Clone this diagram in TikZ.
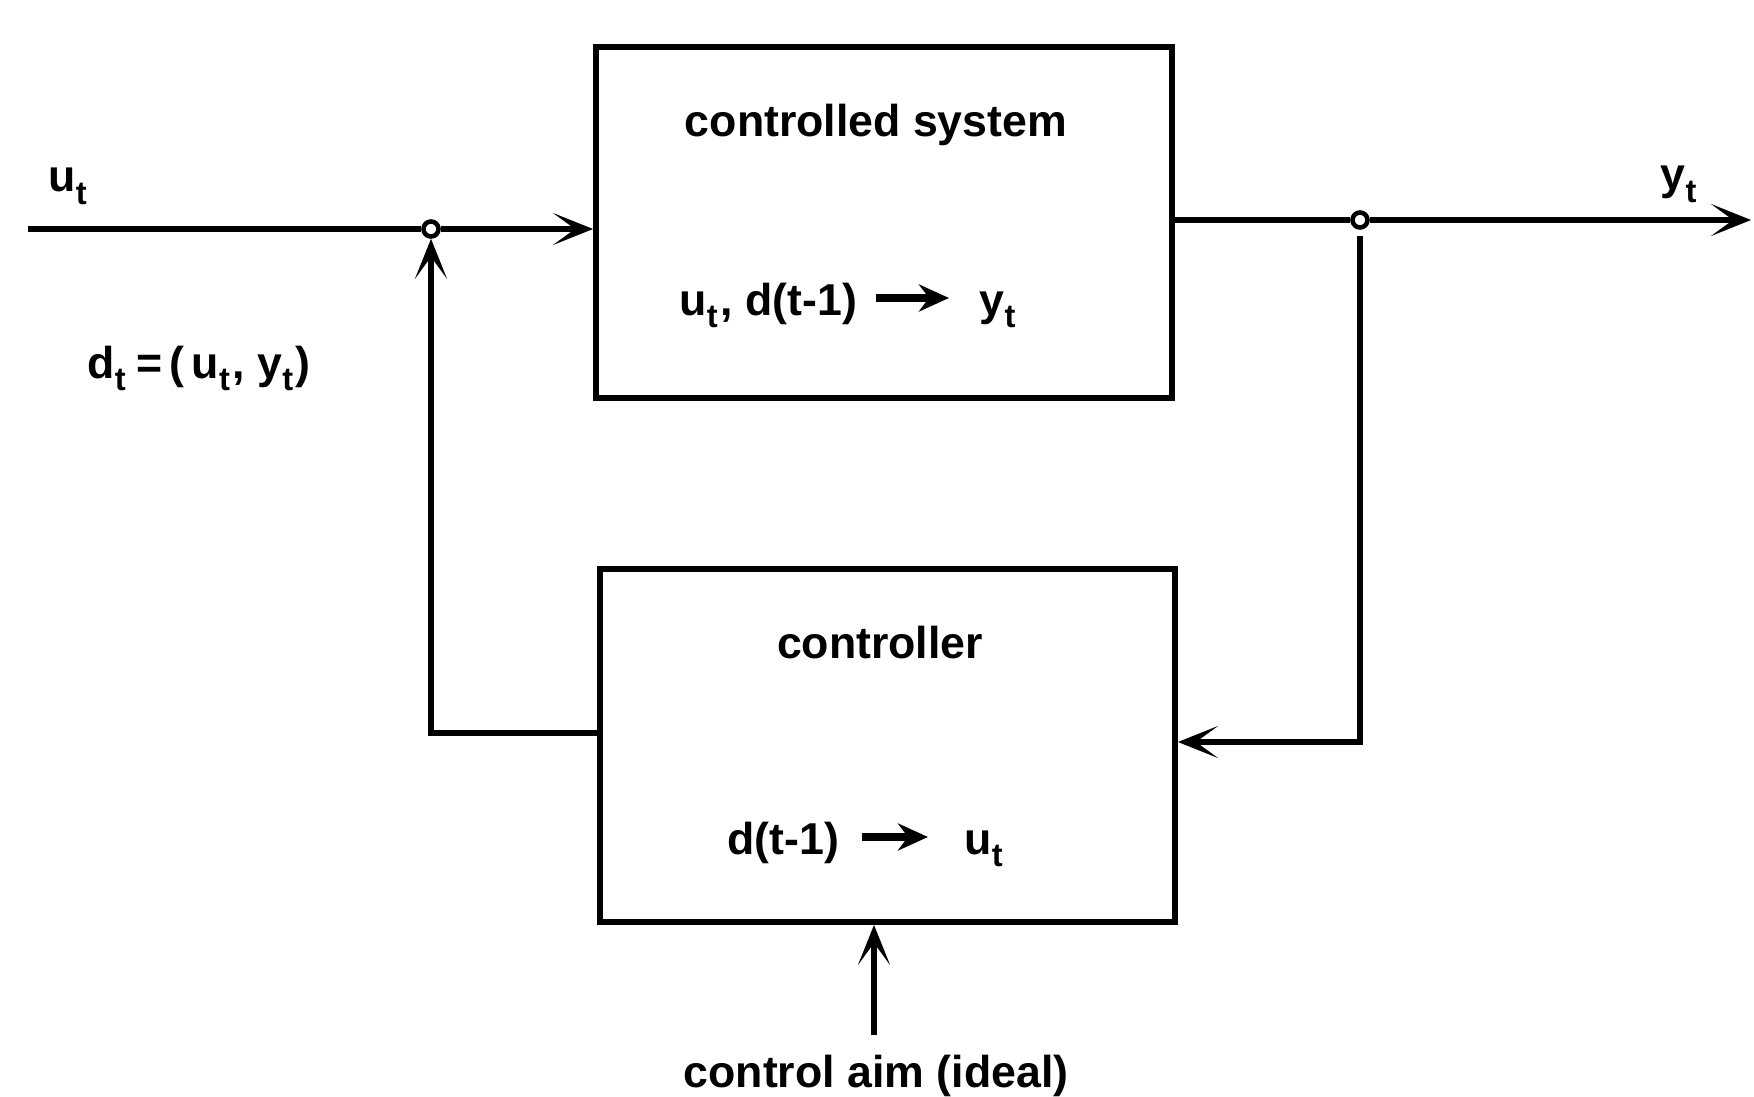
\documentclass[tikz,border=0pt]{standalone}
\usepackage{fontspec}
\setmainfont{Liberation Sans}
\usetikzlibrary{arrows.meta}
% lowered, smaller index letter
\newcommand{\idx}[1]{\raisebox{-0.28em}{\fontsize{9.3pt}{9pt}\selectfont #1}\kern0.06em}
\begin{document}
\begin{tikzpicture}[x=0.01cm,y=-0.01cm,
  wire/.style={line width=1.5pt},
  flow/.style={wire, -{Stealth[length=0.4cm,width=0.32cm,inset=0.22cm]}},
  mapsto/.style={line width=2.2pt, -{Stealth[length=0.3cm,width=0.27cm,inset=0.1cm]}},
  block/.style={draw, line width=1.6pt, inner sep=0pt},
  lbl/.style={font=\fontsize{12.7pt}{15pt}\bfseries\selectfont, inner sep=0pt},
  rule/.style={lbl, text height=0.44cm, text depth=0.1cm},
  junction/.style={circle, draw, fill=white, line width=1.3pt, minimum size=0.15cm, inner sep=0pt},
]
\useasboundingbox (0,0) rectangle (1754,1097);

% the two blocks
\node[block, minimum width=5.76cm, minimum height=3.51cm] (sys) at (884,222.5) {};
\node[block, minimum width=5.75cm, minimum height=3.53cm] (ctl) at (887.5,745.5) {};

\node[lbl, anchor=base] (systitle) at (876,137) {controlled system};
\node[lbl, anchor=base] (ctltitle) at (880,658) {controller};

% mapping rules inside the blocks
\node[rule, anchor=base west] (sysin) at (679,315) {u\idx{t}, d(t-1)};
\node[rule, anchor=base west] (sysout) at (979,315) {y\idx{t}};
\draw[mapsto, shorten <=0.18cm, shorten >=0.3cm] (sysin.east) -- (sysout.west);

\node[rule, anchor=base west] (ctlin) at (727,854) {d(t-1)};
\node[rule, anchor=base west] (ctlout) at (964,854) {u\idx{t}};
\draw[mapsto, shorten <=0.22cm, shorten >=0.36cm] (ctlin.east) -- (ctlout.west);

% signal labels
\node[lbl, anchor=base west] (ulbl) at (48,192) {u\idx{t}};
\node[lbl, anchor=base west] (ylbl) at (1660,190) {y\idx{t}};
\node[lbl, anchor=base west] (dlbl) at (87,378) {d\idx{t}\,=\,(\,u\idx{t}, y\idx{t})};
\node[lbl, anchor=base] (aim) at (876,1087) {control aim (ideal)};

% junctions and signal lines
\coordinate (uin) at (28,229);
\node[junction] (j1) at (431,229) {};
\coordinate (yout) at (1751,220);
\node[junction] (j2) at (1360,220) {};

\draw[wire] (uin) -- (j1.west);
\draw[flow] (j1.east) -- (j1 -| sys.west);
\draw[wire] (j2 -| sys.east) -- (j2.west);
\draw[flow] (j2.east) -- (yout);

% feedback from the output to the controller
\coordinate (fb) at (1360,742);
\draw[flow, shorten <=0.06cm] (j2.south) -- (fb) -- (fb -| ctl.east);

% controller output back to the input junction
\coordinate (cb) at (431,733);
\draw[flow] (ctl.west |- cb) -- (cb) -- (j1.south);

% control aim into the controller
\coordinate (aimtail) at (874,1035);
\draw[flow] (aimtail) -- (aimtail |- ctl.south);
\end{tikzpicture}
\end{document}
